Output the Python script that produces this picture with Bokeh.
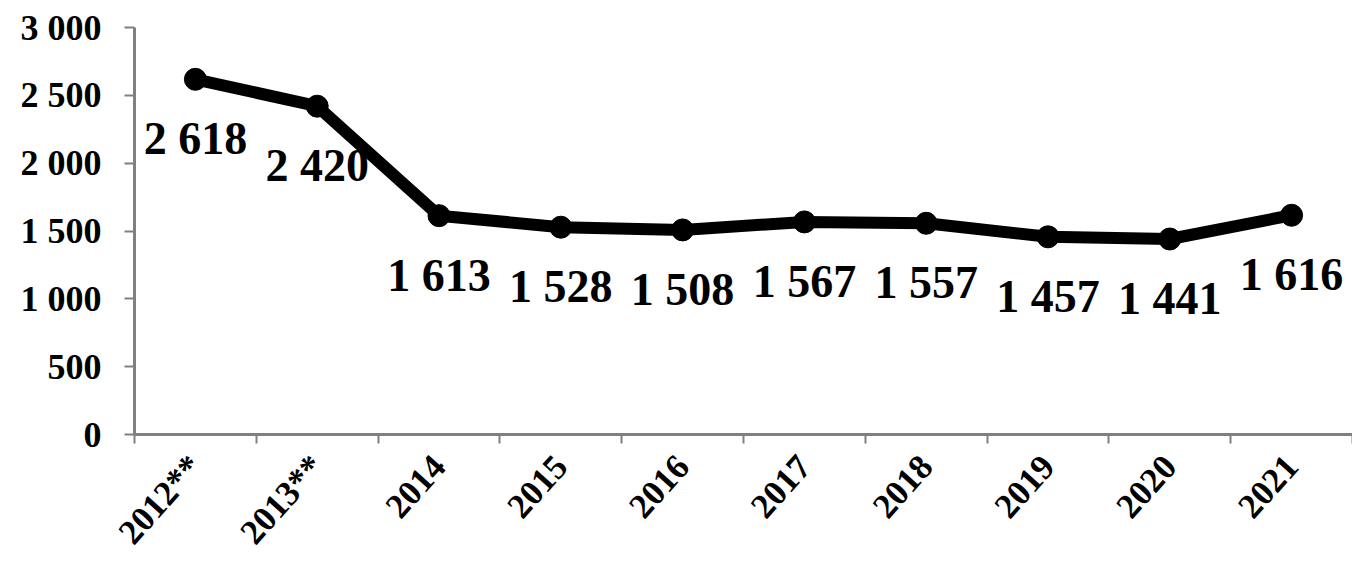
from bokeh.plotting import figure
from bokeh.models import Range1d, FixedTicker
from bokeh.core.properties import value
from bokeh.embed import file_html
from bokeh.resources import INLINE
import math

years = ["2012**", "2013**", "2014", "2015", "2016", "2017", "2018", "2019", "2020", "2021"]
values = [2618, 2420, 1613, 1528, 1508, 1567, 1557, 1457, 1441, 1616]
label_texts = ["2 618", "2 420", "1 613", "1 528", "1 508", "1 567", "1 557", "1 457", "1 441", "1 616"]
y_ticks = [0, 500, 1000, 1500, 2000, 2500, 3000]
y_tick_labels = ["0", "500", "1 000", "1 500", "2 000", "2 500", "3 000"]

FONT = "Liberation Serif"

xs = [i + 0.5 for i in range(len(years))]

p = figure(width=1352, height=567, output_backend="svg", toolbar_location=None,
           x_range=Range1d(0, len(years)), y_range=Range1d(0, 3000),
           min_border_left=134, min_border_right=0, min_border_top=27, min_border_bottom=127)
p.outline_line_color = None
p.grid.visible = False
p.background_fill_color = "white"
p.border_fill_color = "white"

p.line(xs, values, line_color="black", line_width=12, line_join="round")
p.scatter(xs, values, size=22, fill_color="black", line_color="black")

p.text(x=xs, y=values, text=label_texts, text_align="center", text_baseline="top",
       y_offset=34,
       text_font=value(FONT), text_font_style="bold", text_font_size="46px", text_color="black")

# x axis: labels at category centres, ticks at category boundaries (minor ticks)
xa = p.xaxis[0]
xa.ticker = FixedTicker(ticks=xs, minor_ticks=list(range(len(years) + 1)))
xa.major_label_overrides = {x: y for x, y in zip(xs, years)}
xa.major_tick_line_color = None
xa.major_tick_out = 0
xa.major_tick_in = 0
xa.minor_tick_line_color = "#808080"
xa.minor_tick_line_width = 2
xa.minor_tick_out = 9
xa.minor_tick_in = 0
xa.axis_line_color = "#808080"
xa.axis_line_width = 3
xa.major_label_orientation = math.radians(48)
xa.major_label_text_font = FONT
xa.major_label_text_font_style = "bold"
xa.major_label_text_font_size = "35px"
xa.major_label_text_color = "black"
xa.major_label_standoff = 17

ya = p.yaxis[0]
ya.ticker = FixedTicker(ticks=y_ticks)
ya.major_label_overrides = {t: l for t, l in zip(y_ticks, y_tick_labels)}
ya.major_tick_line_color = "#808080"
ya.major_tick_line_width = 2
ya.major_tick_out = 10
ya.major_tick_in = 0
ya.minor_tick_line_color = None
ya.axis_line_color = "#808080"
ya.axis_line_width = 3
ya.major_label_text_font = FONT
ya.major_label_text_font_style = "bold"
ya.major_label_text_font_size = "36px"
ya.major_label_text_color = "black"
ya.major_label_standoff = 23

open("out.html", "w").write(file_html(p, INLINE))
